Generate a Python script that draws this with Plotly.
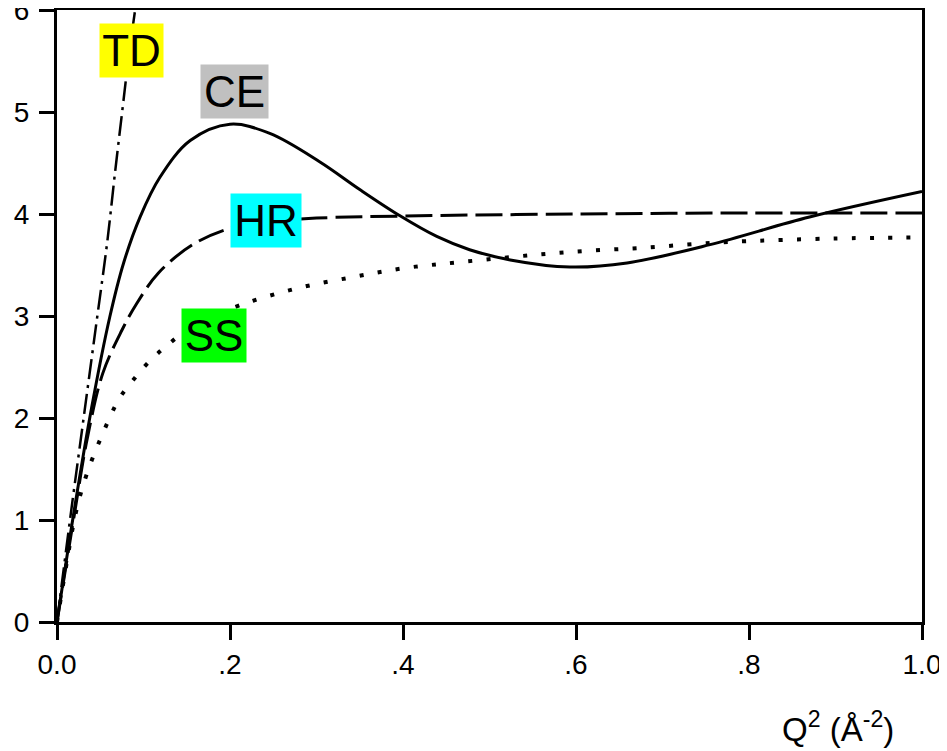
import plotly.graph_objects as go

# Data
td_x = [0, 0.015, 0.03, 0.046, 0.058, 0.067, 0.076, 0.083, 0.092]
td_y = [0, 1.0, 1.95, 2.96, 3.72, 4.40, 5.05, 5.55, 6.1]

ce_x = [0, 0.02, 0.04, 0.061, 0.077, 0.096, 0.119, 0.154, 0.2, 0.246, 0.304, 0.35,
        0.397, 0.439, 0.477, 0.524, 0.593, 0.659, 0.755, 0.87, 1.0]
ce_y = [0, 1.1, 2.1, 2.99, 3.52, 3.97, 4.36, 4.72, 4.88, 4.79, 4.51, 4.24,
        3.98, 3.78, 3.65, 3.55, 3.48, 3.52, 3.70, 3.97, 4.22]

hr_x = [0, 0.02, 0.035, 0.053, 0.075, 0.092, 0.117, 0.157, 0.2, 0.25, 0.3, 0.4, 0.6, 0.8, 1.0]
hr_y = [0, 1.05, 1.8, 2.44, 2.86, 3.12, 3.42, 3.70, 3.86, 3.93, 3.96, 3.98, 4.0, 4.01, 4.01]

ss_x = [0, 0.01, 0.022, 0.034, 0.051, 0.072, 0.087, 0.105, 0.127, 0.16, 0.213, 0.277,
        0.341, 0.402, 0.468, 0.553, 0.616, 0.680, 0.743, 0.786, 0.9, 1.0]
ss_y = [0, 0.52, 1.08, 1.44, 1.81, 2.19, 2.36, 2.54, 2.71, 2.92, 3.11, 3.27,
        3.38, 3.47, 3.53, 3.60, 3.64, 3.67, 3.71, 3.73, 3.76, 3.77]

x_tickvals = [0, 0.2, 0.4, 0.6, 0.8, 1.0]
x_ticktext = ["0.0", ".2", ".4", ".6", ".8", "1.0"]
y_tickvals = [0, 1, 2, 3, 4, 5, 6]

labels = ["TD", "CE", "HR", "SS"]
label_x = [0.0861, 0.2052, 0.2416, 0.1815]
label_y = [5.60, 5.20, 3.94, 2.81]
label_bg = ["#ffff00", "#c0c0c0", "#00ffff", "#00ff00"]
label_w = [63, 67, 70, 64]

FONT = "Liberation Sans, Arial, sans-serif"

fig = go.Figure()
fig.add_trace(go.Scatter(x=td_x, y=td_y, mode="lines", line_shape="spline",
                         line=dict(color="black", width=2.5, dash="20px,6px,3px,6px")))
fig.add_trace(go.Scatter(x=ce_x, y=ce_y, mode="lines", line_shape="spline",
                         line=dict(color="black", width=3)))
fig.add_trace(go.Scatter(x=hr_x, y=hr_y, mode="lines", line_shape="spline",
                         line=dict(color="black", width=3, dash="27px,8px")))
fig.add_trace(go.Scatter(x=ss_x, y=ss_y, mode="lines", line_shape="spline",
                         line=dict(color="black", width=4, dash="4px,14.3px")))

for t, x, y, bg, w in zip(labels, label_x, label_y, label_bg, label_w):
    fig.add_annotation(x=x, y=y, xref="x", yref="y", text=t, showarrow=False,
                       bgcolor=bg, borderpad=0, width=w, height=53,
                       font=dict(family=FONT, size=44, color="black"))

fig.add_annotation(x=(838 - 57) / 865, y=(622 - 727) / 612, xref="paper", yref="paper",
                   xanchor="center", yanchor="middle",
                   text="Q<sup>2</sup> (Å<sup>-2</sup>)",
                   showarrow=False, font=dict(family=FONT, size=33, color="black"))

# page body has an 8px margin: figure is sized/offset to keep the plot area at
# x 57..922, y 10..622 of the window
fig.update_layout(
    width=939, height=743,
    margin=dict(l=49, r=25, t=2, b=129, autoexpand=False),
    paper_bgcolor="white", plot_bgcolor="white",
    showlegend=False,
    font=dict(family=FONT, color="black"),
)
fig.update_xaxes(range=[0, 1.0], tickvals=x_tickvals, ticktext=x_ticktext,
                 showgrid=False, zeroline=False, showline=True, linecolor="black", linewidth=3,
                 mirror=True, ticks="outside", ticklen=15, tickwidth=3, tickcolor="black",
                 automargin=False, ticklabeloverflow="allow",
                 tickfont=dict(size=28, family=FONT, color="black"))
fig.update_yaxes(range=[0, 6], tickvals=y_tickvals,
                 showgrid=False, zeroline=False, showline=True, linecolor="black", linewidth=3,
                 mirror=True, ticks="outside", ticklen=15, tickwidth=3, tickcolor="black",
                 automargin=False, ticklabeloverflow="allow", ticklabelstandoff=4,
                 tickfont=dict(size=28, family=FONT, color="black"))

fig.write_html("out.html")
